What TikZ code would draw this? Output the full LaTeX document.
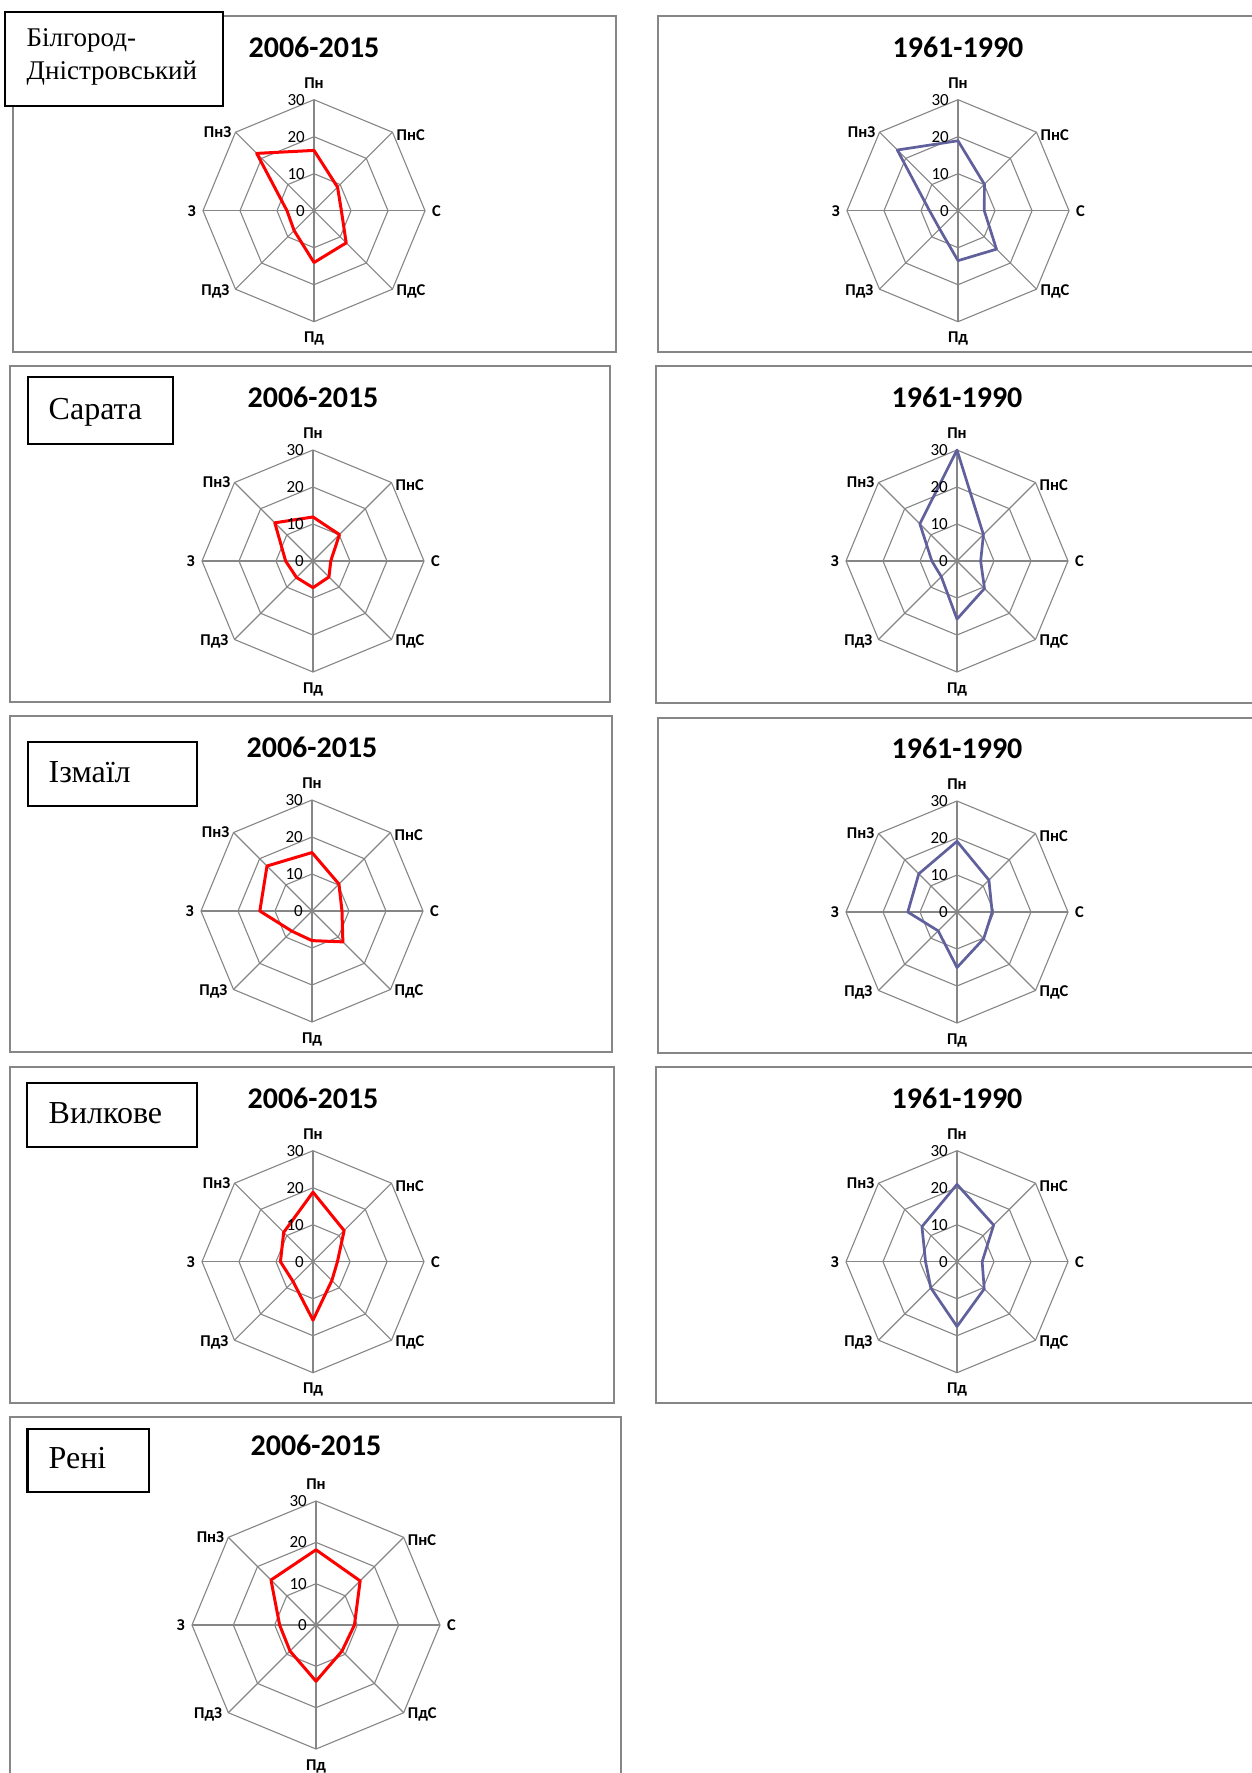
\documentclass[tikz,border=0pt]{standalone}
\usepackage{fontspec}
\setmainfont{Liberation Serif}
\newfontfamily\calfont{Carlito}
\usetikzlibrary{calc}
\definecolor{gridgray}{RGB}{134,134,134}
\definecolor{framegray}{RGB}{134,134,134}
\definecolor{slate}{RGB}{96,96,156}
\tikzset{
  gridline/.style={draw=gridgray, line width=1.1pt},
  framebox/.style={draw=framegray, line width=1.6pt},
  citybox/.style={draw=black, line width=2.6pt},
  dirlabel/.style={font=\calfont\bfseries\fontsize{16.5}{19}\selectfont, inner sep=0pt},
  ticklabel/.style={font=\calfont\fontsize{17}{20}\selectfont, inner sep=0pt, anchor=east},
  titlelabel/.style={font=\calfont\bfseries\fontsize{30}{36}\selectfont, inner sep=0pt, anchor=base},
  citylabel/.style={font=\fontsize{32}{37}\selectfont, inner sep=0pt, anchor=base west},
  citylabelsmall/.style={font=\fontsize{27}{32}\selectfont, inner sep=0pt, anchor=base west},
  redline/.style={draw=red, line width=3pt, line join=round},
  blueline/.style={draw=slate, line width=2.7pt, line join=round},
}
% #1 prefix, #2 cx, #3 cy, #4 radius
\newcommand\RadarGrid[4]{%
\begin{scope}[shift={(#2,#3)}]
  \foreach \k in {1,2,3}{\draw[gridline] (-90:{\k*#4/3}) \foreach \j in {1,...,7}{ -- ({45*\j-90}:{\k*#4/3})} -- cycle;}
  \foreach \j in {0,...,7}{\draw[gridline] (0,0) -- ({45*\j-90}:#4);}
  \node[dirlabel] (#1N) at (0,{-#4-17}) {Пн};
  \node[dirlabel,anchor=west] (#1NE) at ($(-45:#4)+(4,3)$) {ПнС};
  \node[dirlabel,anchor=west] (#1E) at ({#4+7},0) {С};
  \node[dirlabel,anchor=west] (#1SE) at ($(45:#4)+(4,2)$) {ПдС};
  \node[dirlabel] (#1S) at (0,{#4+17}) {Пд};
  \node[dirlabel,anchor=east] (#1SW) at ($(135:#4)+(-6,2)$) {ПдЗ};
  \node[dirlabel,anchor=east] (#1W) at ({-#4-7},0) {З};
  \node[dirlabel,anchor=east] (#1NW) at ($(-135:#4)+(-4,0)$) {ПнЗ};
\end{scope}}
% #1 prefix, #2 cx, #3 cy, #4 radius, #5 style, #6 values
\newcommand\RadarData[6]{%
\begin{scope}[shift={(#2,#3)}]
  \foreach \v [count=\i from 0] in {#6}{\coordinate (#1p\i) at ({45*\i-90}:{\v*#4/30});}
  \draw[#5] (#1p0) -- (#1p1) -- (#1p2) -- (#1p3) -- (#1p4) -- (#1p5) -- (#1p6) -- (#1p7) -- cycle;
  \foreach \k/\t in {0/0,1/10,2/20,3/30}{\node[ticklabel] (#1t\k) at (-9,{-\k*#4/3}) {\t};}
\end{scope}}
\begin{document}
\begin{tikzpicture}[x=1pt,y=-1pt]
\useasboundingbox (0,0) rectangle (1252,1773);
\fill[white] (0,0) rectangle (1252,1773);
\clip (0,0) rectangle (1252,1773);

% frames
\draw[framebox] (13,16) rectangle (616,352);
\draw[framebox] (658,16) rectangle (1270,352);
\draw[framebox] (10,366) rectangle (610,702);
\draw[framebox] (656,366) rectangle (1270,703);
\draw[framebox] (10,716) rectangle (612,1052);
\draw[framebox] (658,718) rectangle (1270,1053);
\draw[framebox] (10,1067) rectangle (614,1403);
\draw[framebox] (656,1067) rectangle (1270,1403);
\draw[framebox] (10,1417) rectangle (621,1800);

% titles
\node[titlelabel] (T1L) at (314,57) {2006-2015};
\node[titlelabel] (T1R) at (958,57) {1961-1990};
\node[titlelabel] (T2L) at (313,407) {2006-2015};
\node[titlelabel] (T2R) at (957,407) {1961-1990};
\node[titlelabel] (T3L) at (312,757) {2006-2015};
\node[titlelabel] (T3R) at (957,758) {1961-1990};
\node[titlelabel] (T4L) at (313,1108) {2006-2015};
\node[titlelabel] (T4R) at (957,1108) {1961-1990};
\node[titlelabel] (T5L) at (316,1455) {2006-2015};

% grids
\RadarGrid{a}{314}{210.7}{111}
\RadarGrid{b}{958}{210.7}{111}
\RadarGrid{c}{313}{561}{111}
\RadarGrid{d}{957}{561}{111}
\RadarGrid{e}{312}{911}{111}
\RadarGrid{f}{957}{912}{111}
\RadarGrid{g}{313}{1261.7}{111}
\RadarGrid{h}{957}{1261.7}{111}
\RadarGrid{k}{316}{1625}{124}

% data
\RadarData{a}{314}{210.7}{111}{redline}{16.3,9.0,7.4,12.3,14.0,7.6,7.3,21.9}
\RadarData{b}{958}{210.7}{111}{blueline}{18.9,10.1,7.1,14.7,13.5,7.0,7.7,23.2}
\RadarData{c}{313}{561}{111}{redline}{11.9,10.1,4.8,6.1,7.2,6.3,7.4,14.6}
\RadarData{d}{957}{561}{111}{blueline}{30,10.1,6.4,10.5,15.7,6.0,6.8,14.2}
\RadarData{e}{312}{911}{111}{redline}{15.8,10.3,8.1,11.8,8.0,7.7,14.1,17.2}
\RadarData{f}{957}{912}{111}{blueline}{19.1,12.2,9.5,10.2,15.0,7.2,13.3,14.6}
\RadarData{g}{313}{1261.7}{111}{redline}{18.8,11.9,6.6,7.2,15.8,7.6,8.8,11.2}
\RadarData{h}{957}{1261.7}{111}{blueline}{20.9,14.0,6.8,10.4,17.5,10.0,8.5,13.4}
\RadarData{k}{316}{1625}{124}{redline}{18.2,15.1,9.3,8.9,13.6,8.9,8.8,15.4}

% city boxes
\draw[citybox,fill=white] (5,12) rectangle (223,106);
\node[citylabelsmall] (city1a) at (26.5,46.5) {Білгород-};
\node[citylabelsmall] (city1b) at (26.5,79) {Дністровський};
\draw[citybox] (28,377) rectangle (173,444);
\node[citylabel] (city2) at (48.5,419) {Сарата};
\draw[citybox] (28,742) rectangle (197,806);
\node[citylabel] (city3) at (48.5,782) {Ізмаїл};
\draw[citybox] (27,1083) rectangle (197,1147);
\node[citylabel] (city4) at (48.5,1123) {Вилкове};
\draw[citybox] (27.5,1429) rectangle (149,1492);
\node[citylabel] (city5) at (48.5,1468) {Рені};
\end{tikzpicture}
\end{document}
